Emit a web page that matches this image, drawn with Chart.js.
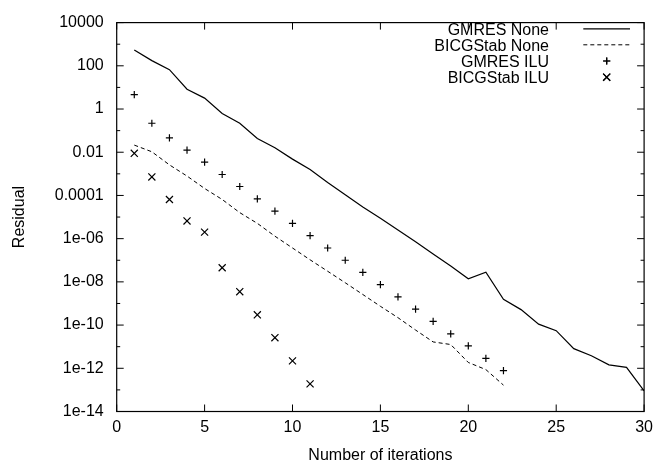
<!DOCTYPE html>
<html>
<head>
<meta charset="utf-8">
<script src="https://cdn.jsdelivr.net/npm/chart.js@4/dist/chart.umd.min.js"></script>
<style>
  html, body { margin: 0; padding: 0; background: #fff; }
  #wrap { width: 659px; height: 465px; }
</style>
</head>
<body>
<div id="wrap"><canvas id="c" width="659" height="465"></canvas></div>
<script>
// ---- data ----
const seriesNames = ['GMRES None', 'BICGStab None', 'GMRES ILU', 'BICGStab ILU'];

const itGmresNone = [1,2,3,4,5,6,7,8,9,10,11,12,13,14,15,16,17,18,19,20,21,22,23,24,25,26,27,28,29,30];
const gmresNone = [543, 174, 66, 8.3, 3.2, 0.62, 0.22, 0.043, 0.016, 0.0048, 0.0016, 4.0e-4, 1.07e-4, 2.9e-5,
  8.7e-6, 2.5e-6, 7.2e-7, 1.95e-7, 5.4e-8, 1.4e-8, 2.8e-8, 1.55e-9, 5.2e-10, 1.1e-10, 5.5e-11,
  8.1e-12, 3.8e-12, 1.45e-12, 1.1e-12, 9.1e-14];

const itBicgNone = [1,2,3,4,5,6,7,8,9,10,11,12,13,14,15,16,17,18,19,20,21,22];
const bicgNone = [0.0214, 0.0105, 0.0026, 7.9e-4, 2.1e-4, 6.5e-5, 1.6e-5, 5.1e-6, 1.3e-6, 3.7e-7, 1.05e-7,
  3.1e-8, 9.1e-9, 2.6e-9, 7.4e-10, 2.2e-10, 5.9e-11, 1.66e-11, 1.26e-11, 1.86e-12, 8.7e-13, 1.66e-13];

const itGmresIlu = [1,2,3,4,5,6,7,8,9,10,11,12,13,14,15,16,17,18,19,20,21,22];
const gmresIlu = [4.6, 0.22, 0.046, 0.0126, 0.0035, 9.3e-4, 2.6e-4, 6.9e-5, 1.9e-5, 5.1e-6, 1.38e-6,
  3.7e-7, 1.0e-7, 2.75e-8, 7.4e-9, 2.0e-9, 5.5e-10, 1.48e-10, 3.9e-11, 1.1e-11, 2.9e-12, 7.8e-13];

const itBicgIlu = [1,2,3,4,5,6,7,8,9,10,11];
const bicgIlu = [0.0089, 7.2e-4, 6.5e-5, 6.6e-6, 2.0e-6, 4.5e-8, 3.5e-9, 3.0e-10, 2.6e-11, 2.2e-12, 1.9e-13];

const xTickValues = [0, 5, 10, 15, 20, 25, 30];
const yTickValues = [1e4, 1e2, 1, 1e-2, 1e-4, 1e-6, 1e-8, 1e-10, 1e-12, 1e-14];
const yTickLabels = ['10000', '100', '1', '0.01', '0.0001', '1e-06', '1e-08', '1e-10', '1e-12', '1e-14'];
const yMinorValues = [1e3, 1e1, 1e-1, 1e-3, 1e-5, 1e-7, 1e-9, 1e-11, 1e-13];

const xTitle = 'Number of iterations';
const yTitle = 'Residual';

// ---- build ----
const pts = (xs, ys) => xs.map((x, i) => ({ x: x, y: ys[i] }));
const FONT = '"Liberation Sans", Arial, Helvetica, sans-serif';

Chart.defaults.color = '#000';
Chart.defaults.font.family = FONT;
Chart.defaults.font.size = 16;

const datasets = [
  { label: seriesNames[0], data: pts(itGmresNone, gmresNone), showLine: true, borderColor: '#000',
    borderWidth: 1.2, pointRadius: 0, fill: false },
  { label: seriesNames[1], data: pts(itBicgNone, bicgNone), showLine: true, borderColor: '#000',
    borderWidth: 1, borderDash: [4, 3], pointRadius: 0, fill: false },
  { label: seriesNames[2], data: pts(itGmresIlu, gmresIlu), showLine: false, borderColor: '#000',
    pointStyle: 'cross', pointRadius: 3.6, pointBorderWidth: 1.2, pointBorderColor: '#000' },
  { label: seriesNames[3], data: pts(itBicgIlu, bicgIlu), showLine: false, borderColor: '#000',
    pointStyle: 'crossRot', pointRadius: 5, pointBorderWidth: 1.2, pointBorderColor: '#000' }
];

const framePlugin = {
  id: 'frame',
  afterDatasetsDraw(chart) {
    const ctx = chart.ctx;
    const a = chart.chartArea;
    const xs = chart.scales.x, ys = chart.scales.y;
    ctx.save();
    ctx.strokeStyle = '#000';
    ctx.lineWidth = 1.2;
    ctx.strokeRect(a.left, a.top, a.right - a.left, a.bottom - a.top);
    ctx.lineWidth = 1;
    ctx.beginPath();
    const MAJ = 7, MIN = 3.5;
    xTickValues.forEach(v => {
      const px = xs.getPixelForValue(v);
      ctx.moveTo(px, a.bottom); ctx.lineTo(px, a.bottom - MAJ);
      ctx.moveTo(px, a.top); ctx.lineTo(px, a.top + MAJ);
    });
    yTickValues.forEach(v => {
      const py = ys.getPixelForValue(v);
      ctx.moveTo(a.left, py); ctx.lineTo(a.left + MAJ, py);
      ctx.moveTo(a.right, py); ctx.lineTo(a.right - MAJ, py);
    });
    yMinorValues.forEach(v => {
      const py = ys.getPixelForValue(v);
      ctx.moveTo(a.left, py); ctx.lineTo(a.left + MIN, py);
      ctx.moveTo(a.right, py); ctx.lineTo(a.right - MIN, py);
    });
    ctx.stroke();

    // key (gnuplot style: text right-aligned, sample to the right)
    const textRight = 549, sx0 = 583.3, sx1 = 630, smid = 606.7;
    const rows = [28.8, 44.8, 61, 77.2];
    ctx.font = '16px ' + FONT;
    ctx.fillStyle = '#000';
    ctx.textAlign = 'right';
    ctx.textBaseline = 'alphabetic';
    chart.data.datasets.forEach((ds, i) => {
      const cy = rows[i];
      ctx.fillText(ds.label, textRight, cy + 5.7);
      ctx.beginPath();
      ctx.strokeStyle = '#000';
      if (ds.showLine) {
        ctx.lineWidth = ds.borderWidth;
        ctx.setLineDash(ds.borderDash || []);
        ctx.moveTo(sx0, cy); ctx.lineTo(sx1, cy);
        ctx.stroke();
        ctx.setLineDash([]);
      } else {
        ctx.lineWidth = ds.pointBorderWidth;
        Chart.helpers.drawPoint(ctx, { pointStyle: ds.pointStyle, radius: ds.pointRadius, rotation: 0, borderWidth: ds.pointBorderWidth }, smid, cy);
        ctx.stroke();
      }
    });
    ctx.restore();
  }
};

new Chart(document.getElementById('c'), {
  type: 'scatter',
  data: { datasets: datasets },
  plugins: [framePlugin],
  options: {
    responsive: false,
    animation: false,
    layout: { padding: { top: 12.7, right: 9.5, left: 0, bottom: 0 } },
    plugins: { legend: { display: false }, tooltip: { enabled: false }, title: { display: false } },
    scales: {
      x: {
        type: 'linear', min: 0, max: 30,
        grid: { display: false, drawTicks: false },
        border: { display: false },
        ticks: { stepSize: 5, padding: 6, maxRotation: 0, color: '#000', font: { size: 16 } },
        afterBuildTicks: s => { s.ticks = xTickValues.map(v => ({ value: v })); },
        afterFit: s => { s.height = 53.5; },
        title: { display: true, text: xTitle, color: '#000', font: { size: 16 }, padding: { top: 3.7, bottom: 0 } }
      },
      y: {
        type: 'logarithmic', min: 1e-14, max: 1e4,
        grid: { display: false, drawTicks: false },
        border: { display: false },
        ticks: {
          padding: 13, color: '#000', font: { size: 16 },
          callback: (v) => { const i = yTickValues.findIndex(t => Math.abs(Math.log10(t) - Math.log10(v)) < 1e-6); return i >= 0 ? yTickLabels[i] : ''; }
        },
        afterBuildTicks: s => { s.ticks = yTickValues.map(v => ({ value: v })); },
        afterFit: s => { s.width = 116.7; },
        title: { display: true, text: yTitle, color: '#000', font: { size: 16 }, padding: { top: 10.4, bottom: 0 } }
      }
    }
  }
});
</script>
</body>
</html>
